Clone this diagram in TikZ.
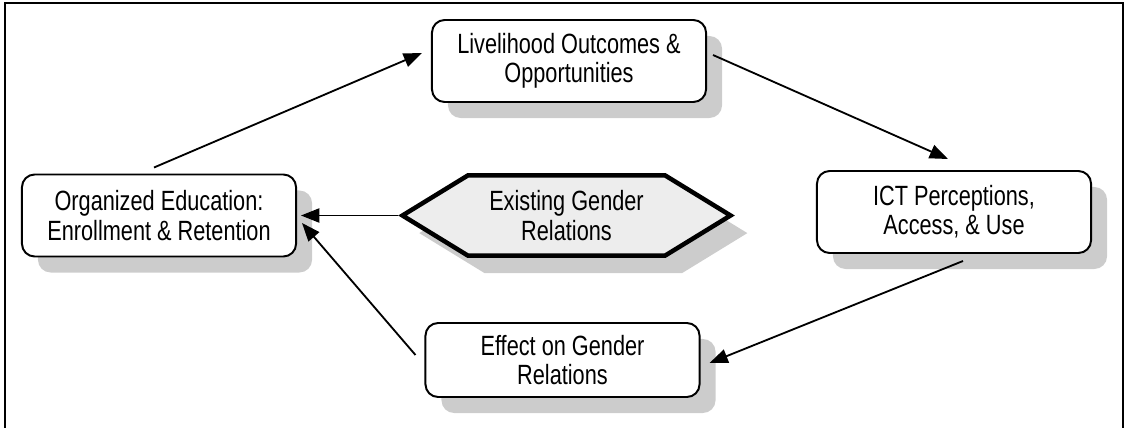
\documentclass[tikz,border=0pt]{standalone}
\usepackage{fontspec}
\setmainfont[FakeStretch=0.78]{Liberation Sans}
\usepackage{tikz}
\usetikzlibrary{calc}
\usetikzlibrary{shadows}
\usetikzlibrary{shapes.symbols}
\usetikzlibrary{arrows.meta}

\tikzset{
	stagebox/.style={draw,line width=1.4pt,rounded corners=9pt,fill=white,minimum width=6.85cm,minimum height=2.05cm,align=center,font=\fontsize{19.8}{20.8}\selectfont,drop shadow={shadow xshift=0.4cm,shadow yshift=-0.4cm,fill=black!20,opacity=1}},
	givenbox/.style={draw,line width=3.2pt,signal,signal to=east and west,signal pointer angle=63,fill=black!7,minimum width=8.2cm,minimum height=2cm,align=center,font=\fontsize{19.8}{20.8}\selectfont,drop shadow={shadow xshift=0.42cm,shadow yshift=-0.44cm,fill=black!20,opacity=1}},
	link/.style={line width=1.3pt,-{Triangle[length=13pt,width=10pt]}}
}

\begin{document}
\begin{tikzpicture}[x=0.025cm,y=-0.025cm]
	\useasboundingbox (0,0) rectangle (1128,427);
	\draw[line width=2pt] (5,440) -- (5,3) -- (1123,3) -- (1123,440);
	\node[stagebox] (edu) at (159,215.5) {Organized Education:\\Enrollment \& Retention};
	\node[stagebox] (liv) at (569,61) {Livelihood Outcomes \&\\Opportunities};
	\node[stagebox] (ict) at (954,212) {ICT Perceptions,\\Access, \& Use};
	\node[stagebox,minimum height=1.85cm] (eff) at (562.5,360) {Effect on Gender\\Relations};
	\node[givenbox] (gen) at (566.5,215.5) {Existing Gender\\Relations};
	\draw[link] ($(edu.north)+(-5,-6)$) -- ($(liv.west)+(-9,-8)$);
	\draw[link] ($(liv.east)+(6,-6)$) -- ($(ict.north)+(-6,-11)$);
	\draw[link] ($(ict.south)+(9,7)$) -- ($(eff.east)+(9,3)$);
	\draw[link] ($(eff.west)+(-9,-5)$) -- ($(edu.east)+(5,7.5)$);
	\draw[link] (gen.west) -- ($(edu.east)+(4,0)$);
\end{tikzpicture}
\end{document}
